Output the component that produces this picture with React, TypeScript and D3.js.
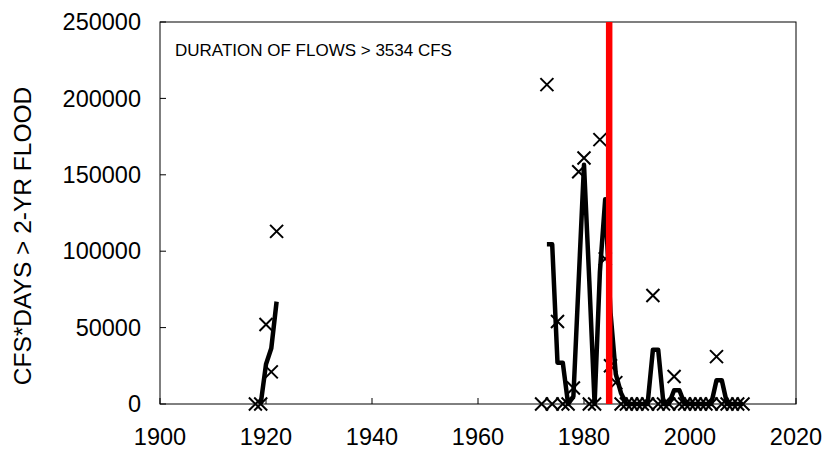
import * as d3 from "d3"

// annual peak-flow durations (x markers)
const markerYears = [
  1918, 1919, 1920, 1921, 1922,
  1972, 1973, 1974, 1975, 1976, 1977, 1978, 1979, 1980, 1981, 1982, 1983, 1984, 1985, 1986,
  1987, 1988, 1989, 1990, 1991, 1992, 1993, 1994, 1995, 1996, 1997, 1998, 1999, 2000,
  2001, 2002, 2003, 2004, 2005, 2006, 2007, 2008, 2009, 2010,
]
const markerValues = [
  0, 0, 52000, 21000, 113000,
  0, 209000, 0, 54000, 0, 0, 10500, 152000, 161000, 0, 0, 173000, 95000, 25000, 14000,
  0, 0, 0, 0, 0, 0, 71000, 0, 0, 0, 18000, 0, 0, 0,
  0, 0, 0, 0, 31000, 0, 0, 0, 0, 0,
]

// smoothed trend line (null = gap)
const lineYears = [
  1919, 1920, 1921, 1922, 1950,
  1973, 1974, 1975, 1976, 1977, 1978, 1979, 1980, 1981, 1982, 1983, 1984, 1985, 1986,
  1987, 1988, 1989, 1990, 1991, 1992, 1993, 1994, 1995, 1996, 1997, 1998, 1999, 2000,
  2001, 2002, 2003, 2004, 2005, 2006, 2007, 2008, 2009, 2010,
]
const lineValues: (number | null)[] = [
  0, 26000, 36500, 67000, null,
  104500, 104500, 27000, 27000, 0, 5000, 81000, 156500, 80500, 0, 86500, 134000, 60000, 19500,
  7000, 0, 0, 0, 0, 0, 35500, 35500, 0, 0, 9000, 9000, 0, 0,
  0, 0, 0, 0, 15500, 15500, 0, 0, 0, 0,
]

const xTicks = [1900, 1920, 1940, 1960, 1980, 2000, 2020]
const yTicks = [0, 50000, 100000, 150000, 200000, 250000]
const markerYear = 1984.75
const noteText = "DURATION OF FLOWS > 3534 CFS"
const yTitle = "CFS*DAYS > 2-YR FLOOD"

const W = 824
const H = 451
const margin = { top: 22, right: 28, bottom: 47, left: 160 }
const font = "'Liberation Sans', Arial, sans-serif"

export default function App() {
  const x = d3.scaleLinear().domain([1900, 2020]).range([margin.left, W - margin.right])
  const y = d3.scaleLinear().domain([0, 250000]).range([H - margin.bottom, margin.top])

  const pts = lineYears.map((yr, i) => ({ yr, v: lineValues[i] }))
  const trend = d3
    .line<{ yr: number; v: number | null }>()
    .defined((d) => d.v !== null)
    .x((d) => x(d.yr))
    .y((d) => y(d.v as number))

  const y0 = y(0)
  const s = 6.5

  return (
    <svg
      width={W}
      height={H}
      style={{ position: "absolute", left: 0, top: 0, background: "white" }}
      fontFamily={font}
    >
      {/* plot frame */}
      <rect
        x={x(1900)}
        y={y(250000)}
        width={x(2020) - x(1900)}
        height={y(0) - y(250000)}
        fill="none"
        stroke="black"
        strokeWidth={1}
      />

      {/* y ticks */}
      {yTicks.map((t) => (
        <g key={t}>
          <line x1={x(1900)} x2={x(1900) + 6} y1={y(t)} y2={y(t)} stroke="black" />
          <text x={x(1900) - 19} y={y(t)} dy="0.35em" textAnchor="end" fontSize={23.5}>
            {t}
          </text>
        </g>
      ))}

      {/* x ticks */}
      {xTicks.map((t) => (
        <g key={t}>
          <line x1={x(t)} x2={x(t)} y1={y0} y2={y0 - 6} stroke="black" />
          <text x={x(t)} y={y0 + 33} dy="0.35em" textAnchor="middle" fontSize={23.5}>
            {t}
          </text>
        </g>
      ))}

      {/* markers */}
      {markerYears.map((yr, i) => {
        const cx = x(yr)
        const cy = y(markerValues[i])
        return (
          <path
            key={i}
            d={`M${cx - s},${cy - s}L${cx + s},${cy + s}M${cx - s},${cy + s}L${cx + s},${cy - s}`}
            stroke="black"
            strokeWidth={2}
            fill="none"
          />
        )
      })}

      {/* trend line */}
      <path
        d={trend(pts) || ""}
        fill="none"
        stroke="black"
        strokeWidth={4.5}
        strokeLinejoin="round"
      />

      {/* red marker line */}
      <line
        x1={x(markerYear)}
        x2={x(markerYear)}
        y1={y(250000)}
        y2={y(0)}
        stroke="#ff0000"
        strokeWidth={6.5}
      />

      <text x={175} y={50} dy="0.35em" fontSize={17}>
        {noteText}
      </text>

      <text
        transform={`translate(22,${(margin.top + H - margin.bottom) / 2 + 23}) rotate(-90)`}
        textAnchor="middle"
        dy="0.35em"
        fontSize={24.5}
      >
        {yTitle}
      </text>
    </svg>
  )
}
